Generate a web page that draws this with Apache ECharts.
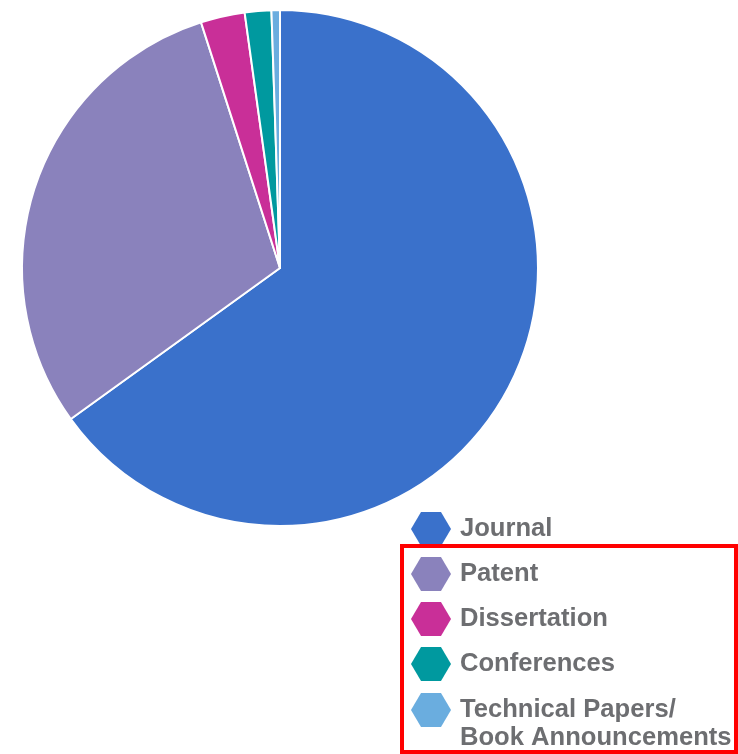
<!DOCTYPE html>
<html>
<head>
<meta charset="utf-8">
<title>Publication types</title>
<script src="https://cdn.jsdelivr.net/npm/echarts@6/dist/echarts.min.js"></script>
<style>
  html, body { margin: 0; padding: 0; background: #fff; }
  #chart { width: 738px; height: 754px; }
</style>
</head>
<body>
<div id="chart"></div>
<script>
// values (share of documents, %)
const categories = ['Journal', 'Patent', 'Dissertation', 'Conferences', 'Technical Papers/ Book Announcements']
const shares = [65.05, 30.0, 2.76, 1.66, 0.53]
const colors = ['#3a71cb', '#8a82bc', '#c92f98', '#00999f', '#6aaddf']

const hexagon = 'path://M0,17L10,0L30,0L40,17L30,34L10,34Z'

const chart = echarts.init(document.getElementById('chart'))

const legendText = {
  fontFamily: '"Liberation Sans", Arial, sans-serif',
  fontWeight: 'bold',
  fontSize: 25.6,
  lineHeight: 28,
  color: '#6d6e71',
  padding: [0, 0, 0, 4]
}

// common legend settings, no white border on the icons
const legendBase = {
  orient: 'vertical',
  left: 411,
  padding: 0,
  itemWidth: 40,
  itemHeight: 34,
  icon: hexagon,
  selectedMode: false,
  itemStyle: { borderWidth: 0 },
  textStyle: legendText
}

chart.setOption({
  animation: false,
  color: colors,
  legend: [
    Object.assign({}, legendBase, {
      top: 512,
      itemGap: 11,
      data: categories.slice(0, 4)
    }),
    Object.assign({}, legendBase, {
      top: 668,
      data: categories.slice(4),
      // blank first line keeps the icon level with "Technical Papers/"
      formatter: () => '\nTechnical Papers/\nBook Announcements'
    })
  ],
  graphic: [
    {
      type: 'rect',
      z: 100,
      shape: { x: 402, y: 546, width: 334, height: 206 },
      style: { fill: 'none', stroke: '#ff0000', lineWidth: 4 }
    }
  ],
  series: [
    {
      type: 'pie',
      center: [280, 268],
      radius: 258,
      startAngle: 90,
      clockwise: true,
      label: { show: false },
      labelLine: { show: false },
      emphasis: { scale: false },
      itemStyle: { borderColor: '#ffffff', borderWidth: 2 },
      data: categories.map((name, i) => ({ name, value: shares[i] }))
    }
  ]
})
</script>
</body>
</html>
